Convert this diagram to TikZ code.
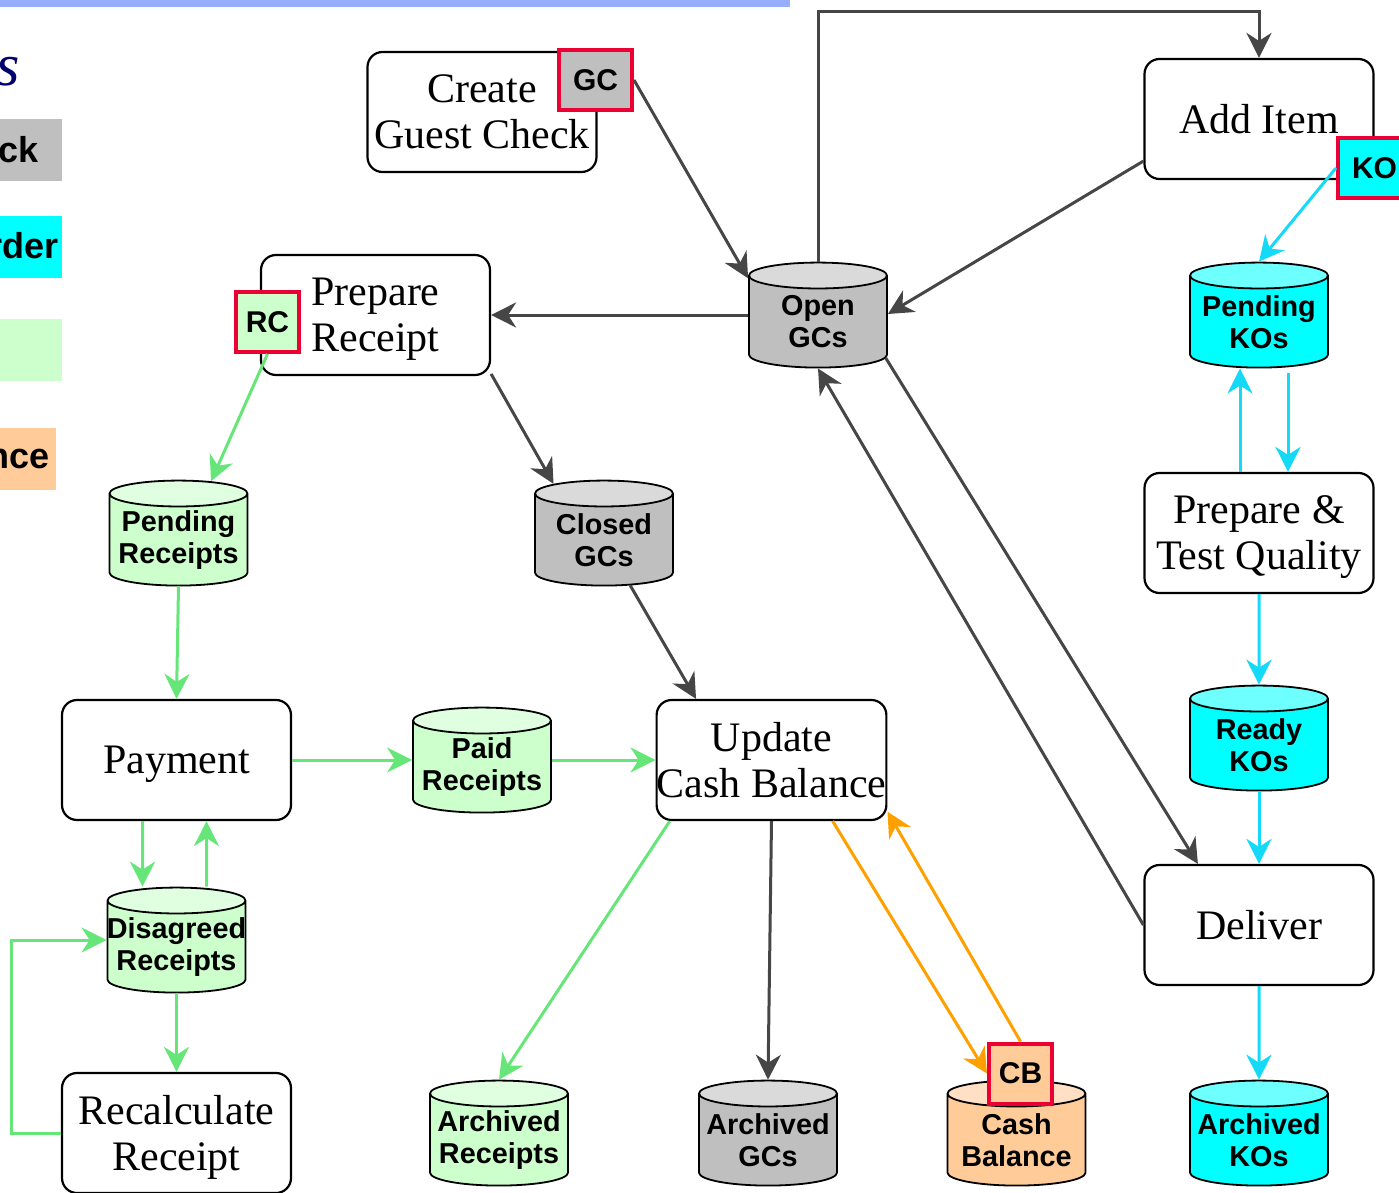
\documentclass[tikz,border=0pt]{standalone}
\usepackage{fontspec}
\setmainfont{Liberation Serif}
\setsansfont{Liberation Sans}
\usetikzlibrary{shapes.geometric,arrows.meta}

\definecolor{barblue}{RGB}{150,174,252}
\definecolor{titleblue}{RGB}{0,0,110}
\definecolor{gcgray}{RGB}{191,191,191}
\definecolor{gctop}{RGB}{218,218,218}
\definecolor{kocyan}{RGB}{0,255,255}
\definecolor{kotop}{RGB}{110,255,255}
\definecolor{rcgreen}{RGB}{204,255,204}
\definecolor{rctop}{RGB}{224,255,224}
\definecolor{cborange}{RGB}{255,204,153}
\definecolor{cbtop}{RGB}{255,224,196}
\definecolor{tagred}{RGB}{236,0,52}
\definecolor{gcline}{RGB}{70,70,70}
\definecolor{koline}{RGB}{20,218,248}
\definecolor{rcline}{RGB}{102,230,120}
\definecolor{cbline}{RGB}{255,160,0}

% two centred lines of one fixed width, so all stores come out alike
\newcommand{\storetext}[2]{\makebox[37pt]{#1}\\\makebox[37pt]{#2}}

\begin{document}
\begin{tikzpicture}[x=0.5pt,y=-0.5pt,
    proc/.style={draw,rounded corners=7.5pt,line width=1.1pt,fill=white,
      minimum width=114.5pt,minimum height=60pt,inner sep=0pt,align=center,
      text depth=0pt,font=\fontsize{21}{23}\selectfont},
    store/.style={cylinder,shape border rotate=90,draw,line width=0.9pt,
      aspect=0.35,minimum width=69pt,minimum height=52.5pt,inner sep=0pt,
      cylinder uses custom fill,align=center,
      font=\sffamily\bfseries\fontsize{14.4}{16}\selectfont},
    gcstore/.style={store,cylinder body fill=gcgray,cylinder end fill=gctop},
    kostore/.style={store,cylinder body fill=kocyan,cylinder end fill=kotop},
    rcstore/.style={store,cylinder body fill=rcgreen,cylinder end fill=rctop},
    cbstore/.style={store,cylinder body fill=cborange,cylinder end fill=cbtop},
    tag/.style={draw=tagred,line width=2pt,minimum height=30pt,inner sep=0pt,
      font=\sffamily\bfseries\fontsize{15}{18}\selectfont},
    key/.style={inner sep=0pt,font=\sffamily\bfseries\fontsize{18}{20}\selectfont},
    flow/.style={line width=1.5pt,-{Stealth[length=12.5pt,width=12.5pt,inset=4pt]}},
    gcflow/.style={flow,draw=gcline},
    koflow/.style={flow,draw=koline},
    rcflow/.style={flow,draw=rcline},
    cbflow/.style={flow,draw=cbline}]
  \useasboundingbox (0,0) rectangle (1399,1193);
  \clip (0,0) rectangle (1399,1193);

  % legend, cut at the left edge
  \fill[barblue] (0,0) rectangle (790,7);
  \node[inner sep=0pt,text=titleblue,font=\itshape\fontsize{30}{32}\selectfont]
    (keytitle) at (8,72) {s};
  \fill[gcgray] (0,119) rectangle (62,181);
  \node[key,anchor=east] (keygc) at (39,150) {ck};
  \fill[kocyan] (0,216) rectangle (62,278);
  \node[key,anchor=east] (keyko) at (59,246) {rder};
  \fill[rcgreen] (0,319) rectangle (62,381);
  \fill[cborange] (0,428) rectangle (56,490);
  \node[key,anchor=east] (keycb) at (50,459) {nce};

  % processes
  \node[proc] (create) at (482,112) {Create\\Guest Check};
  \node[proc] (add) at (1259,119) {Add Item};
  \node[proc] (prep) at (375.5,315) {Prepare\\Receipt};
  \node[proc] (ptq) at (1259,533) {Prepare \&\\Test Quality};
  \node[proc] (pay) at (176.5,760) {Payment};
  \node[proc] (upd) at (771.5,760) {Update\\Cash Balance};
  \node[proc] (deliv) at (1259,925) {Deliver};
  \node[proc] (recalc) at (176.5,1133) {Recalculate\\Receipt};

  % data stores
  \node[gcstore] (open) at (818,322) {\storetext{Open}{GCs}};
  \node[kostore] (pko) at (1259,322) {\storetext{Pending}{KOs}};
  \node[rcstore] (prec) at (178.5,540) {\storetext{Pending}{Receipts}};
  \node[gcstore] (closed) at (604,540) {\storetext{Closed}{GCs}};
  \node[rcstore] (paid) at (482,767) {\storetext{Paid}{Receipts}};
  \node[kostore] (rko) at (1259,745) {\storetext{Ready}{KOs}};
  \node[rcstore] (disag) at (176.5,947) {\storetext{Disagreed}{Receipts}};
  \node[rcstore] (arec) at (499,1140) {\storetext{Archived}{Receipts}};
  \node[gcstore] (agc) at (768,1140) {\storetext{Archived}{GCs}};
  \node[cbstore] (cash) at (1016.5,1140) {\storetext{Cash}{Balance}};
  \node[kostore] (ako) at (1259,1140) {\storetext{Archived}{KOs}};

  % tags
  \node[tag,fill=gcgray,minimum width=36.5pt] (gc) at (595.5,80) {GC};
  \node[tag,fill=kocyan,minimum width=36.5pt] (ko) at (1374.5,168) {KO};
  \node[tag,fill=rcgreen,minimum width=31.5pt] (rc) at (267.5,322) {RC};
  \node[tag,fill=cborange,minimum width=31.5pt] (cb) at (1020.5,1073.5) {CB};

  % guest checks
  \draw[gcflow] (gc.east) -- (open.148);
  \draw[gcflow] (open.north) -- ++(0,-250) -| (add.north);
  \draw[gcflow] (add.200) -- ([yshift=4pt]open.east);
  \draw[gcflow] (open.west |- prep.east) -- (prep.east);
  \draw[gcflow] (prep.-27) -- (closed.132);
  \draw[gcflow] (closed.-60) -- (upd.141);
  \draw[gcflow] (open.-28) -- (deliv.135);
  \draw[gcflow] (deliv.west) -- (open.south);
  \draw[gcflow] (upd.south) -- (agc.north);

  % kitchen orders
  \draw[koflow] (ko.west) -- (pko.north);
  \draw[koflow] ([xshift=-9.5pt]ptq.north) -- ([xshift=-9.5pt]pko.south);
  \draw[koflow] ([xshift=14.5pt,yshift=-2.5pt]pko.south) -- ([xshift=14.5pt]ptq.north);
  \draw[koflow] (ptq.south) -- (rko.north);
  \draw[koflow] (rko.south) -- (deliv.north);
  \draw[koflow] (deliv.south) -- (ako.north);

  % receipts
  \draw[rcflow] (rc.south) -- (prec.61);
  \draw[rcflow] (prec.south) -- (pay.north);
  \draw[rcflow] (pay.east) -- (paid.west |- pay.east);
  \draw[rcflow] (paid.east |- upd.west) -- (upd.west);
  \draw[rcflow] ([xshift=-17pt]pay.south) -- ([xshift=-17pt]disag.north);
  \draw[rcflow] ([xshift=15pt]disag.north) -- ([xshift=15pt]pay.south);
  \draw[rcflow] (disag.south) -- (recalc.north);
  \draw[rcflow] (recalc.west) -- ++(-49,0) |- ([yshift=3.5pt]disag.west);
  \draw[rcflow] (upd.211) -- (arec.north);

  % cash balance
  \draw[cbflow] (upd.-45.5) -- (cb.west);
  \draw[cbflow] (cb.north) -- (upd.-24);
\end{tikzpicture}
\end{document}
